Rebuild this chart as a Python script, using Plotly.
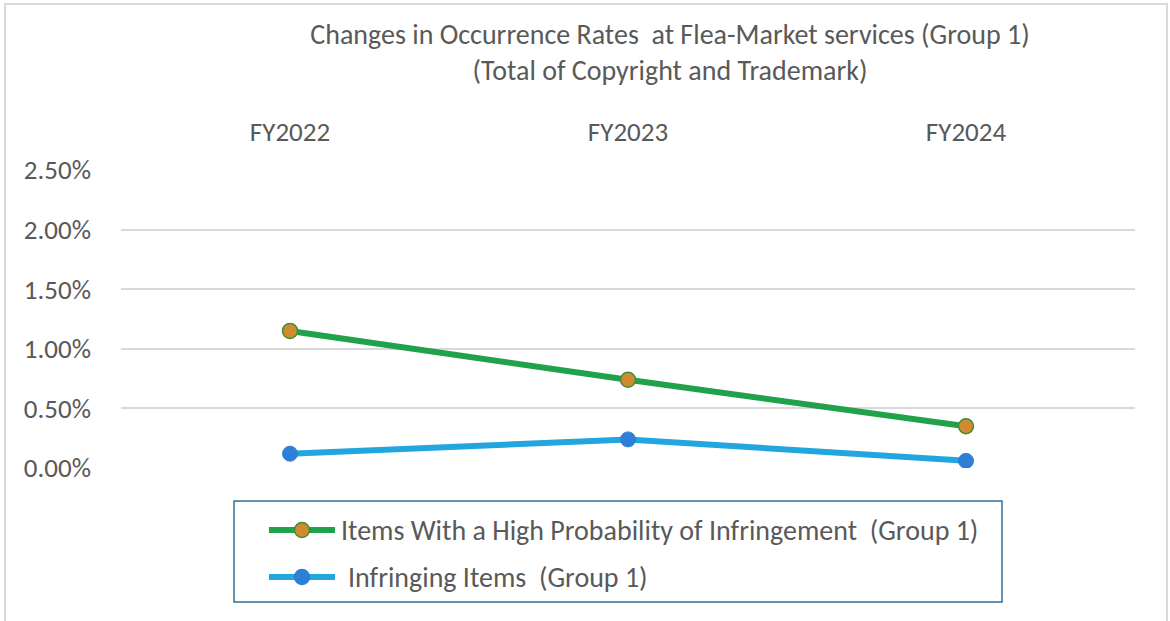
import plotly.graph_objects as go

categories = ["FY2022", "FY2023", "FY2024"]
high_prob = [1.15, 0.74, 0.35]
infringing = [0.12, 0.24, 0.06]
y_ticks = [0, 0.5, 1.0, 1.5, 2.0, 2.5]
y_tick_labels = ["0.00%", "0.50%", "1.00%", "1.50%", "2.00%", "2.50%"]
series_names = ["Items With a High Probability of Infringement  (Group 1)", "Infringing Items  (Group 1)"]

FONT = "Carlito, Lato, sans-serif"
GRAY = "#595959"
GREEN = "#21A24A"
ORANGE = "#D08A30"
BLUE_LINE = "#21A6E0"
BLUE_MK = "#2F7FD6"

# plot-area geometry (pixels) used to place the hand-drawn legend / frame
L, R, T, B = 121, 1135, 170, 468
W, H = R - L, B - T
def px(x):
    return (x - L) / W
def py(y):
    return (B - y) / H

fig = go.Figure()
fig.add_trace(go.Scatter(
    x=categories, y=high_prob, name=series_names[0], mode="lines+markers",
    line=dict(color=GREEN, width=6),
    marker=dict(size=15, color=ORANGE, line=dict(color="#3E8E3A", width=1.5)),
))
fig.add_trace(go.Scatter(
    x=categories, y=infringing, name=series_names[1], mode="lines+markers",
    line=dict(color=BLUE_LINE, width=6),
    marker=dict(size=15, color=BLUE_MK, line=dict(color=BLUE_MK, width=1)),
))

shapes = [
    # outer chart frame
    dict(type="rect", xref="paper", yref="paper", x0=px(5), x1=px(1167), y0=py(630), y1=py(4),
         line=dict(color="#D9D9D9", width=2), layer="below"),
    # legend box
    dict(type="rect", xref="paper", yref="paper", x0=px(234), x1=px(1002), y0=py(602), y1=py(501),
         line=dict(color="#2F6F94", width=1.5)),
]
annotations = []
legend_rows = [
    (530, GREEN, ORANGE, "#3E8E3A", 339, series_names[0]),
    (577, BLUE_LINE, BLUE_MK, BLUE_MK, 346, series_names[1]),
]
r = 7.5
for yy, lc, mc, mlc, tx, name in legend_rows:
    shapes.append(dict(type="line", xref="paper", yref="paper", x0=px(269), x1=px(335),
                       y0=py(yy), y1=py(yy), line=dict(color=lc, width=6)))
    shapes.append(dict(type="circle", xref="paper", yref="paper",
                       x0=px(302 - r), x1=px(302 + r), y0=py(yy + r), y1=py(yy - r),
                       fillcolor=mc, line=dict(color=mlc, width=1.5)))
    annotations.append(dict(xref="paper", yref="paper", x=px(tx), y=py(yy), xanchor="left",
                            yanchor="middle", text=name, showarrow=False,
                            font=dict(family=FONT, size=28, color=GRAY)))

fig.update_layout(
    width=1170, height=621,
    paper_bgcolor="white", plot_bgcolor="white",
    margin=dict(l=L, r=1170 - R, t=T, b=621 - B),
    font=dict(family=FONT, color=GRAY, size=27),
    title=dict(
        text="Changes in Occurrence Rates  at Flea-Market services (Group 1)<br>(Total of Copyright and Trademark)",
        x=670 / 1170, xanchor="center", y=1 - 44 / 621, yanchor="top",
        font=dict(family=FONT, size=28, color=GRAY),
    ),
    showlegend=False,
    shapes=shapes,
    annotations=annotations,
)
fig.update_xaxes(
    side="top", showgrid=False, showline=False, zeroline=False, range=[-0.5, 2.5],
    tickfont=dict(family=FONT, size=27, color=GRAY), ticklabelstandoff=23,
)
fig.update_yaxes(
    range=[0, 2.5], tickvals=y_ticks, ticktext=y_tick_labels,
    showgrid=True, gridcolor="#D9D9D9", gridwidth=1.5, zeroline=False, showline=False,
    tickfont=dict(family=FONT, size=27, color=GRAY), ticklabelstandoff=29,
)

fig.write_html("out.html", config={"displayModeBar": False},
               post_script="document.body.style.margin='0px';")
